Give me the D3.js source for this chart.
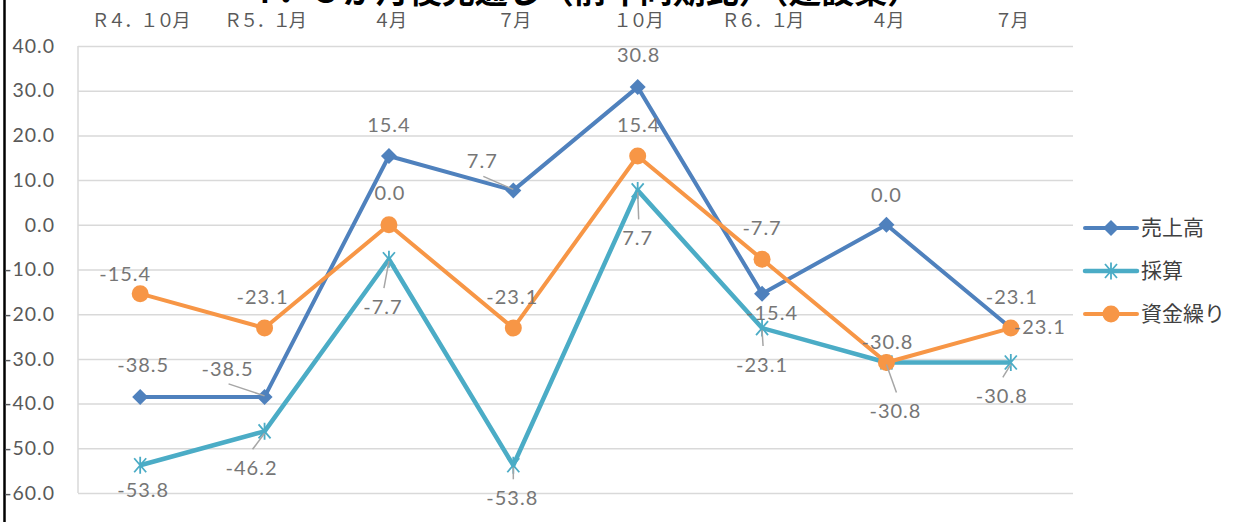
<!DOCTYPE html>
<html>
<head>
<meta charset="utf-8">
<script src="https://cdn.jsdelivr.net/npm/d3@7"></script>
<style>
  html, body { margin: 0; padding: 0; background: #fff; }
  svg { display: block; }
  .num { font-family: Lato, "Open Sans", sans-serif; font-size: 20px; letter-spacing: 1px; }
  .jp { font-family: "Noto Sans CJK JP", sans-serif; }
</style>
</head>
<body>
<script>
// data
var categories = ['Ｒ４．１０月', 'Ｒ５．１月', '４月', '７月', '１０月', 'Ｒ６．１月', '４月', '７月'];
var seriesNames = ['売上高', '採算', '資金繰り'];
var sales = [-38.5, -38.5, 15.4, 7.7, 30.8, -15.4, 0.0, -23.1];
var profit = [-53.8, -46.2, -7.7, -53.8, 7.7, -23.1, -30.8, -30.8];
var funds = [-15.4, -23.1, 0.0, -23.1, 15.4, -7.7, -30.8, -23.1];
var yTicks = [40, 30, 20, 10, 0, -10, -20, -30, -40, -50, -60];

// label placement (offset of label centre from its point, leader line or not)
var salesLabelPos = [[3, -32, 0], [-37, -28, 1], [0, -31, 0], [-31, -29, 1], [1, -32, 0], [10, 19, 0], [0, -30, 0], [1, -31, 0]];
var profitLabelPos = [[3, 25, 0], [-13, 37, 1], [-6, 48, 1], [-1, 33, 1], [0, 48, 1], [0, 37, 1], [9, 49, 1], [-9, 34, 1]];
var fundsLabelPos = [[-15, -20, 0], [-2, -31, 0], [1, -32, 0], [-1, -31, 0], [1, -31, 0], [0, -31, 0], [1, -20, 0], [29, -1, 0]];

var W = 1243, H = 522;
var plotLeft = 78, plotRight = 1073, plotTop = 46, plotBottom = 493;

// plain hyphen for negatives, like the original
var fmt = d3.formatLocale({ decimal: '.', thousands: ',', grouping: [3], currency: ['', ''], minus: '-' }).format('.1f');

var svg = d3.select('body').append('svg')
  .attr('width', W)
  .attr('height', H);

// cut-off title at the very top
svg.append('text')
  .attr('class', 'jp')
  .attr('x', 582)
  .attr('y', 3)
  .attr('text-anchor', 'middle')
  .style('font-size', '33px')
  .style('font-weight', 'bold')
  .style('fill', '#000')
  .text('４．３か月後見通し（前年同期比）（建設業）');

// left black border
svg.append('line')
  .attr('x1', 4.5).attr('x2', 4.5)
  .attr('y1', 0).attr('y2', H)
  .style('stroke', '#000')
  .style('stroke-width', 2.5);

var x = d3.scaleBand()
  .domain(d3.range(categories.length))
  .range([plotLeft, plotRight]);
var cx = function (i) { return x(i) + x.bandwidth() / 2; };

var y = d3.scaleLinear()
  .domain([-60, 40])
  .range([plotBottom, plotTop]);

// y axis + gridlines
var yAxis = d3.axisLeft(y)
  .tickValues(yTicks)
  .tickFormat(fmt)
  .tickSize(-(plotRight - plotLeft))
  .tickPadding(plotLeft - 55);

var gy = svg.append('g')
  .attr('transform', 'translate(' + plotLeft + ',0)')
  .call(yAxis);
gy.select('.domain').remove();
gy.selectAll('.tick line')
  .style('stroke', '#d9d9d9')
  .style('stroke-width', 1.5);
gy.selectAll('.tick text')
  .attr('class', 'num')
  .style('fill', '#595959')
  .style('font-size', '19.5px');

svg.append('line')
  .attr('x1', plotLeft).attr('x2', plotLeft)
  .attr('y1', plotTop).attr('y2', plotBottom)
  .style('stroke', '#d9d9d9')
  .style('stroke-width', 1.5);

// category labels along the top
var xAxis = d3.axisTop(x)
  .tickSize(0)
  .tickPadding(0)
  .tickFormat(function (i) { return categories[i]; });

var gx = svg.append('g')
  .attr('transform', 'translate(0,27)')
  .call(xAxis);
gx.select('.domain').remove();
gx.selectAll('.tick text')
  .attr('class', 'jp')
  .attr('dy', 0)
  .style('font-size', '18px')
  .style('letter-spacing', '-1.8px')
  .style('fill', '#595959');

var diamond = 'M0,-8L8,0L0,8L-8,0Z';
var star = 'M-6,-7L6,7M-6,7L6,-7M0,-8.5L0,8.5';

var series = [
  { name: seriesNames[0], values: sales, color: '#4f81bd', width: 4, marker: 'diamond', labels: salesLabelPos },
  { name: seriesNames[1], values: profit, color: '#4bacc6', width: 4.5, marker: 'star', labels: profitLabelPos },
  { name: seriesNames[2], values: funds, color: '#f79646', width: 4, marker: 'circle', labels: fundsLabelPos }
];

var line = d3.line()
  .x(function (d, i) { return cx(i); })
  .y(function (d) { return y(d); });

function drawMarker(g, s) {
  if (s.marker === 'circle') {
    g.append('circle').attr('r', 8.5).style('fill', s.color);
  } else if (s.marker === 'diamond') {
    g.append('path').attr('d', diamond).style('fill', s.color);
  } else {
    g.append('path').attr('d', star)
      .style('fill', 'none')
      .style('stroke', s.color)
      .style('stroke-width', 1.8);
  }
}

series.forEach(function (s) {
  svg.append('path')
    .datum(s.values)
    .attr('d', line)
    .style('fill', 'none')
    .style('stroke', s.color)
    .style('stroke-width', s.width)
    .style('stroke-linejoin', 'round');

  s.values.forEach(function (v, i) {
    var g = svg.append('g')
      .attr('transform', 'translate(' + cx(i) + ',' + y(v) + ')');
    drawMarker(g, s);
  });
});

// data labels and leader lines
series.forEach(function (s) {
  s.values.forEach(function (v, i) {
    var p = s.labels[i];
    var lx = cx(i) + p[0], ly = y(v) + p[1];
    if (p[2]) {
      svg.append('line')
        .attr('x1', lx + 1)
        .attr('y1', p[1] < 0 ? ly + 15 : ly - 19)
        .attr('x2', cx(i))
        .attr('y2', y(v) + (p[1] < 0 ? -1 : 2))
        .style('stroke', '#a6a6a6')
        .style('stroke-width', 1.5);
    }
    svg.append('text')
      .attr('class', 'num')
      .attr('x', lx)
      .attr('y', ly)
      .attr('dy', '0.35em')
      .attr('text-anchor', 'middle')
      .style('fill', '#767676')
      .text(fmt(v));
  });
});

// legend
var legendY = [228, 271, 314];
series.forEach(function (s, k) {
  var g = svg.append('g')
    .attr('transform', 'translate(1111,' + legendY[k] + ')');
  g.append('line')
    .attr('x1', -26).attr('x2', 26)
    .style('stroke', s.color)
    .style('stroke-width', s.width)
    .style('stroke-linecap', 'round');
  drawMarker(g, s);
  g.append('text')
    .attr('class', 'jp')
    .attr('x', 30)
    .attr('dy', '0.35em')
    .style('font-size', '21px')
    .style('fill', '#404040')
    .text(s.name);
});
</script>
</body>
</html>
